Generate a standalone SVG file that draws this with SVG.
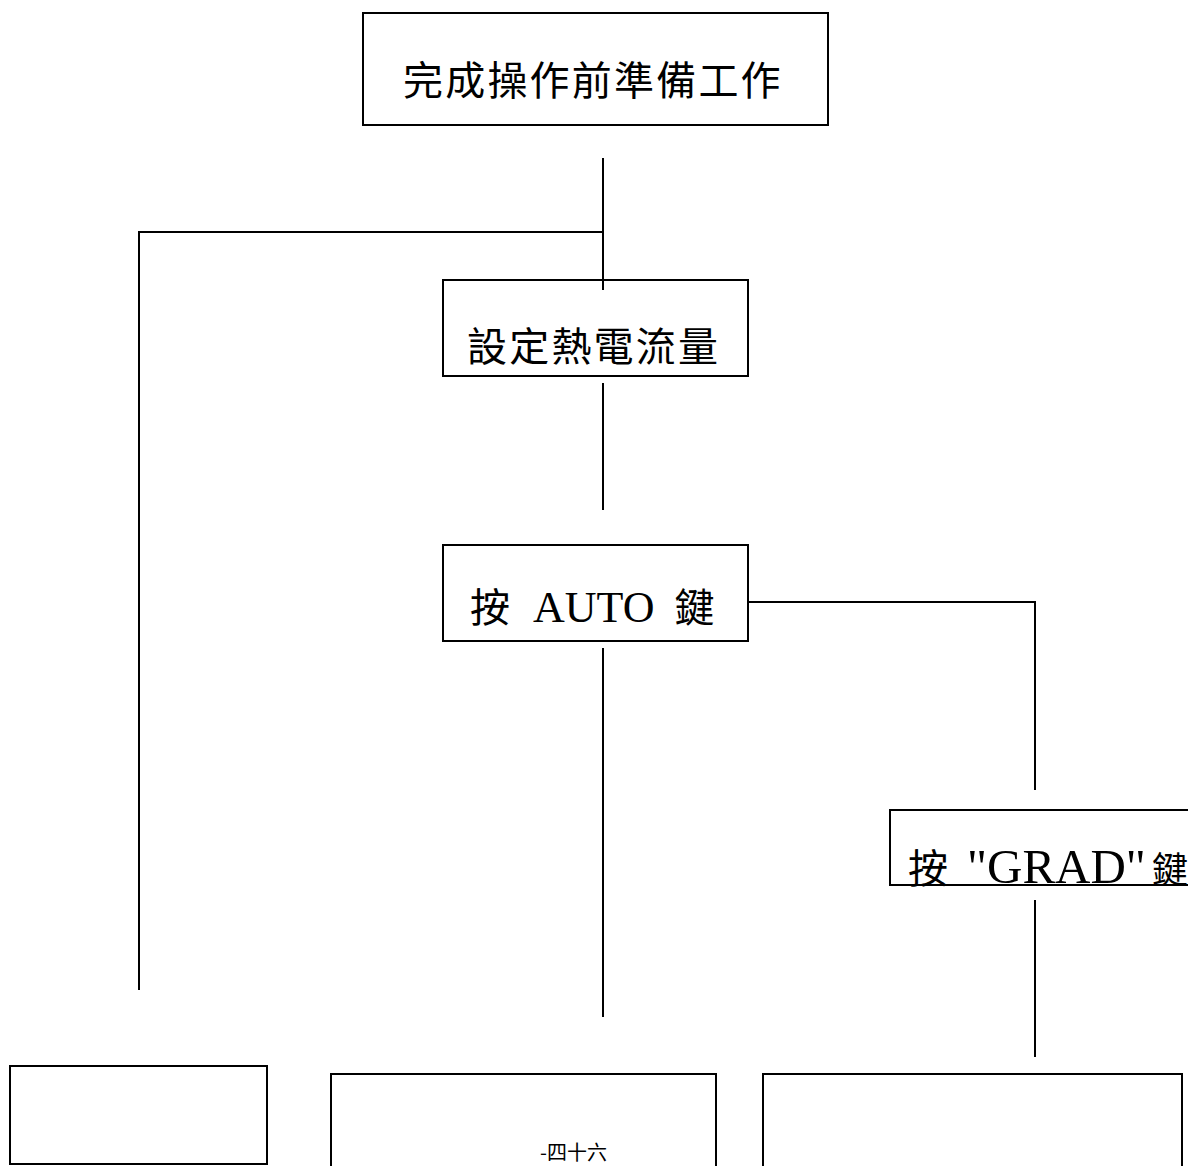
<svg xmlns="http://www.w3.org/2000/svg" width="1188" height="1166" viewBox="0 0 1188 1166">
<style>
.box{fill:#fff;stroke:#000;stroke-width:2}
.ln{fill:none;stroke:#000;stroke-width:2}
.cjk{font-family:"Noto Sans CJK TC","Noto Sans CJK SC",sans-serif;font-size:40px;fill:#000}
.mix{font-family:"Liberation Serif","Noto Sans CJK TC",serif;font-size:40px;fill:#000}
</style>
<rect width="1188" height="1166" fill="#fff"/>
<g id="connectors">
<path class="ln" d="M603 158V290"/>
<path class="ln" d="M603 232H139V990"/>
<path class="ln" d="M603 383V510"/>
<path class="ln" d="M748 602H1035V790"/>
<path class="ln" d="M603 648V1017"/>
<path class="ln" d="M1035 900V1057"/>
</g>
<g id="n1">
<rect class="box" x="363" y="13" width="465" height="112"/>
<text class="cjk" x="403" y="95" style="letter-spacing:2.2px">完成操作前準備工作</text>
</g>
<g id="n2">
<rect class="box" x="443" y="280" width="305" height="96"/>
<path class="ln" d="M603 280V290"/>
<text class="cjk" x="467" y="361" style="letter-spacing:2.2px">設定熱電流量</text>
</g>
<g id="n3">
<rect class="box" x="443" y="545" width="305" height="96"/>
<text x="470" y="622"><tspan class="cjk">按</tspan><tspan class="mix" dx="23" style="font-size:44px">AUTO</tspan><tspan class="cjk" dx="20">鍵</tspan></text>
</g>
<g id="n4">
<path class="ln" d="M1190 810H890V885H1190"/>
<text y="883"><tspan class="cjk" x="908">按</tspan><tspan class="mix" x="967" style="font-size:49px">"GRAD"</tspan><tspan class="cjk" x="1152" style="font-size:36px">鍵</tspan></text>
</g>
<g id="n5">
<rect class="box" x="10" y="1066" width="257" height="98"/>
</g>
<g id="n6">
<path class="ln" d="M331 1170V1074H716V1170"/>
<text x="540" y="1160" style="font-family:'Noto Sans CJK TC',sans-serif;font-size:20px">-四十六</text>
</g>
<g id="n7">
<path class="ln" d="M763 1170V1074H1182V1170"/>
</g>
</svg>
